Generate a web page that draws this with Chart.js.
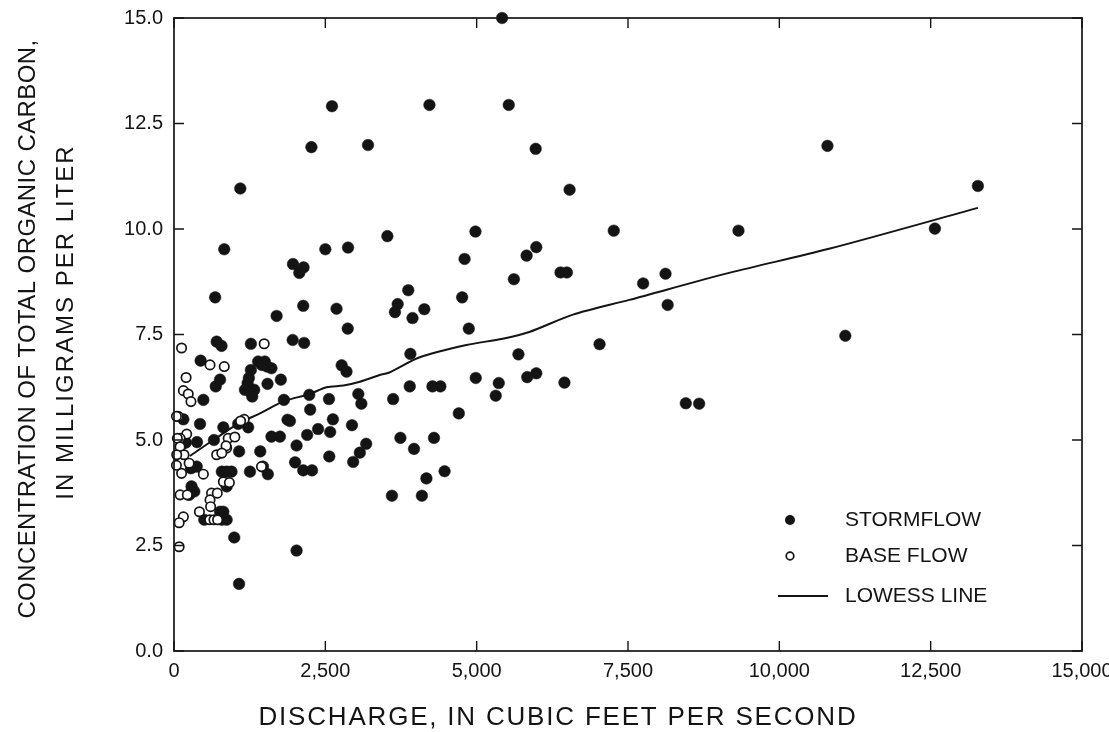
<!DOCTYPE html>
<html>
<head>
<meta charset="utf-8">
<script src="https://cdn.jsdelivr.net/npm/chart.js@4.4.1/dist/chart.umd.min.js"></script>
<style>
  html, body { margin: 0; padding: 0; background: #fff; }
  #wrap { width: 1109px; height: 732px; }
</style>
</head>
<body>
<div id="wrap"><canvas id="tocChart"></canvas></div>
<script>
// discharge (ft3/s) and total organic carbon (mg/L) samples
const stormX = [5420, 2610, 4220, 5530, 2270, 3205, 5975, 10795, 1095, 6535, 13280, 830, 2500, 2875, 3525, 4980, 4800, 5985, 5825, 5615,
  6385, 6490, 1965, 2140, 2070, 7265, 9325, 12570, 8120, 7750, 8155, 680, 3870, 4760, 3695, 3650, 4135, 3940, 4870, 2135,
  2685, 2870, 1695, 1960, 2150, 3905, 2770, 2850, 5690, 5835, 5985, 4985, 5365, 5315, 3895, 4270, 4400, 2235, 2560, 3045,
  3095, 3620, 2250, 4705, 1915, 2625, 2380, 2580, 2940, 2200, 2025, 3175, 3070, 2960, 2565, 3740, 4295, 3965, 2000, 2135,
  2280, 4470, 4170, 3600, 4095, 7030, 6450, 8455, 8675, 11090, 705, 785, 1270, 440, 760, 690, 1390, 1500, 1540, 1450,
  1610, 1270, 1237, 1216, 1172, 1254, 1325, 1292, 1545, 1765, 1815, 485, 430, 155, 1875, 1610, 1750, 815, 1060, 1225,
  380, 660, 1075, 1425, 1255, 1550, 1470, 790, 870, 950, 870, 280, 375, 290, 335, 250, 760, 815, 870, 790,
  500, 995, 1075, 2025, 195, 155];
const stormY = [15.0, 12.91, 12.94, 12.94, 11.94, 11.99, 11.9, 11.97, 10.96, 10.93, 11.02, 9.52, 9.52, 9.56, 9.83, 9.94, 9.29, 9.57, 9.37, 8.81,
  8.97, 8.97, 9.17, 9.09, 8.96, 9.96, 9.96, 10.01, 8.94, 8.71, 8.2, 8.38, 8.55, 8.38, 8.22, 8.03, 8.1, 7.89, 7.64, 8.18,
  8.11, 7.64, 7.94, 7.37, 7.3, 7.04, 6.77, 6.62, 7.03, 6.49, 6.58, 6.47, 6.35, 6.05, 6.27, 6.27, 6.27, 6.07, 5.97, 6.09,
  5.86, 5.97, 5.72, 5.63, 5.45, 5.49, 5.26, 5.19, 5.35, 5.12, 4.87, 4.91, 4.7, 4.48, 4.61, 5.05, 5.05, 4.79, 4.47, 4.28,
  4.28, 4.26, 4.09, 3.68, 3.68, 7.27, 6.36, 5.87, 5.86, 7.47, 7.33, 7.23, 7.28, 6.88, 6.43, 6.27, 6.86, 6.86, 6.74, 6.78,
  6.7, 6.66, 6.47, 6.35, 6.19, 6.15, 6.19, 6.03, 6.33, 6.43, 5.95, 5.95, 5.38, 5.49, 5.48, 5.08, 5.08, 5.3, 5.38, 5.3,
  4.95, 5.0, 4.73, 4.73, 4.25, 4.19, 4.37, 4.25, 4.25, 4.25, 3.9, 4.33, 4.37, 3.9, 3.78, 3.7, 3.3, 3.3, 3.11, 3.11,
  3.11, 2.69, 1.59, 2.38, 4.94, 4.92];

const baseX = [1490, 125, 595, 830, 200, 155, 235, 280, 70, 1160, 210, 100, 895, 1005, 705, 870, 860, 790, 55, 100,
  165, 45, 250, 125, 485, 815, 915, 620, 715, 595, 605, 100, 220, 155, 85, 420, 85, 1445, 590, 660,
  720, 40, 1100, 40];
const baseY = [7.28, 7.18, 6.78, 6.74, 6.48, 6.17, 6.09, 5.91, 5.56, 5.49, 5.14, 5.04, 5.04, 5.07, 4.65, 4.81, 4.86, 4.69, 5.04, 4.84,
  4.65, 4.65, 4.45, 4.21, 4.19, 4.01, 3.99, 3.74, 3.74, 3.58, 3.42, 3.7, 3.7, 3.18, 3.04, 3.3, 2.47, 4.37, 3.11, 3.11,
  3.11, 5.56, 5.45, 4.4];

const lowessX = [260, 650, 1090, 1420, 1800, 2240, 2520, 2800, 3070, 3400, 3560, 4060, 4830, 5430, 5870, 6590, 7520, 9170, 10820, 13280];
const lowessY = [4.62, 5.0, 5.41, 5.63, 5.91, 6.09, 6.25, 6.29, 6.38, 6.54, 6.6, 6.96, 7.25, 7.4, 7.56, 7.97, 8.32, 8.96, 9.53, 10.5];

const xTicks = [0, 2500, 5000, 7500, 10000, 12500, 15000];
const yTicks = [0, 2.5, 5, 7.5, 10, 12.5, 15];

const legendLabels = ['STORMFLOW', 'BASE FLOW', 'LOWESS LINE'];
const xTitle = 'DISCHARGE, IN CUBIC FEET PER SECOND';
const yTitle = ['CONCENTRATION OF TOTAL ORGANIC CARBON,', 'IN MILLIGRAMS PER LITER'];

const ink = '#141414';
const font = '"Liberation Sans", Arial, sans-serif';

function pairs(xs, ys) {
  return xs.map((x, i) => ({ x: x, y: ys[i] }));
}

function title(ctx, text, x, y, size, spacing, angle) {
  ctx.save();
  ctx.translate(x, y);
  ctx.rotate(angle);
  ctx.font = size + 'px ' + font;
  ctx.letterSpacing = spacing + 'px';
  ctx.fillText(text, 0, 0);
  ctx.restore();
}

// box round the plot with inward ticks on every side, plus the axis titles
const framePlugin = {
  id: 'frame',
  afterDatasetsDraw(chart) {
    const { ctx, chartArea: a, scales } = chart;
    const len = 10;
    ctx.save();
    ctx.strokeStyle = ink;
    ctx.lineWidth = 1.7;
    ctx.strokeRect(a.left, a.top, a.right - a.left, a.bottom - a.top);
    ctx.lineWidth = 1.4;
    ctx.beginPath();
    xTicks.forEach(v => {
      const px = scales.x.getPixelForValue(v);
      ctx.moveTo(px, a.bottom); ctx.lineTo(px, a.bottom - len);
      ctx.moveTo(px, a.top); ctx.lineTo(px, a.top + len);
    });
    yTicks.forEach(v => {
      const py = scales.y.getPixelForValue(v);
      ctx.moveTo(a.left, py); ctx.lineTo(a.left + len, py);
      ctx.moveTo(a.right, py); ctx.lineTo(a.right - len, py);
    });
    ctx.stroke();

    ctx.fillStyle = ink;
    ctx.textAlign = 'center';
    ctx.textBaseline = 'middle';
    title(ctx, xTitle, 558, 718, 26, 1.8, 0);
    title(ctx, yTitle[0], 28, 329, 24, 0.4, -Math.PI / 2);
    title(ctx, yTitle[1], 66, 322, 24, 2, -Math.PI / 2);
    ctx.restore();
  }
};

// key in the lower right of the plot
const keyPlugin = {
  id: 'key',
  afterDraw(chart) {
    const { ctx, chartArea: a } = chart;
    const mx = a.right - 292, tx = a.right - 237;
    const rows = [a.bottom - 131, a.bottom - 95, a.bottom - 55];
    ctx.save();
    ctx.fillStyle = ink;
    ctx.strokeStyle = ink;
    ctx.beginPath();
    ctx.arc(mx, rows[0], 5, 0, Math.PI * 2);
    ctx.fill();
    ctx.lineWidth = 1.7;
    ctx.beginPath();
    ctx.arc(mx, rows[1], 3.8, 0, Math.PI * 2);
    ctx.stroke();
    ctx.lineWidth = 1.9;
    ctx.beginPath();
    ctx.moveTo(mx - 12, rows[2]);
    ctx.lineTo(mx + 38, rows[2]);
    ctx.stroke();
    ctx.font = '21px ' + font;
    ctx.textAlign = 'left';
    ctx.textBaseline = 'middle';
    legendLabels.forEach((t, i) => ctx.fillText(t, tx, rows[i]));
    ctx.restore();
  }
};

new Chart(document.getElementById('tocChart'), {
  type: 'scatter',
  data: {
    datasets: [
      {
        label: legendLabels[1],
        data: pairs(baseX, baseY),
        pointRadius: 4.7,
        pointBackgroundColor: '#ffffff',
        pointBorderColor: ink,
        pointBorderWidth: 1.7,
        clip: false,
        order: 1
      },
      {
        label: legendLabels[0],
        data: pairs(stormX, stormY),
        pointRadius: 5.8,
        pointBackgroundColor: ink,
        pointBorderColor: ink,
        pointBorderWidth: 0.5,
        clip: false,
        order: 2
      },
      {
        type: 'line',
        label: legendLabels[2],
        data: pairs(lowessX, lowessY),
        borderColor: ink,
        borderWidth: 2,
        pointRadius: 0,
        tension: 0.3,
        fill: false,
        order: 3
      }
    ]
  },
  options: {
    responsive: true,
    maintainAspectRatio: false,
    animation: false,
    layout: { padding: { top: 18, right: 27, left: 0, bottom: 0 } },
    plugins: {
      legend: { display: false },
      tooltip: { enabled: false }
    },
    scales: {
      x: {
        type: 'linear',
        min: 0,
        max: 15000,
        afterFit: s => { s.height = 81; s.paddingLeft = 0; s.paddingRight = 0; },
        afterBuildTicks: s => { s.ticks = xTicks.map(v => ({ value: v })); },
        grid: { display: false, drawTicks: false },
        border: { display: false },
        ticks: {
          color: ink,
          padding: 8,
          maxRotation: 0,
          font: { family: font, size: 20 },
          callback: v => v.toLocaleString('en-US')
        }
      },
      y: {
        type: 'linear',
        min: 0,
        max: 15,
        afterFit: s => { s.width = 174; s.paddingTop = 0; s.paddingBottom = 0; },
        afterBuildTicks: s => { s.ticks = yTicks.map(v => ({ value: v })); },
        grid: { display: false, drawTicks: false },
        border: { display: false },
        ticks: {
          color: ink,
          padding: 11,
          font: { family: font, size: 20 },
          callback: v => v.toFixed(1)
        }
      }
    }
  },
  plugins: [framePlugin, keyPlugin]
});
</script>
</body>
</html>
